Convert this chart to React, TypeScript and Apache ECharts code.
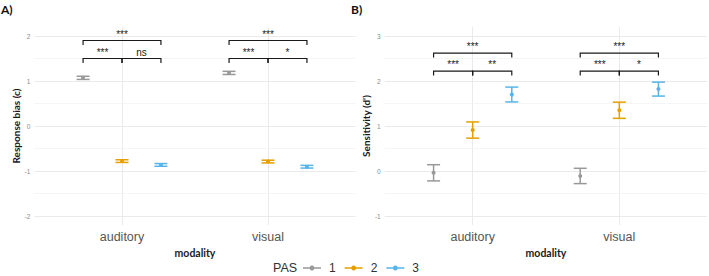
import React, { useEffect, useRef } from "react";
import * as echarts from "echarts";

const modalities = ["auditory", "visual"];
const pasLevels = ["1", "2", "3"];
const pasColors = ["#999999", "#E69F00", "#56B4E9"];

// Panel A: response bias (c)
const biasMean1 = [1.07, 1.18];
const biasErr1 = [0.035, 0.035];
const biasMean2 = [-0.78, -0.79];
const biasErr2 = [0.03, 0.03];
const biasMean3 = [-0.865, -0.905];
const biasErr3 = [0.03, 0.03];

// Panel B: sensitivity (d')
const dMean1 = [-0.04, -0.11];
const dErr1 = [0.18, 0.17];
const dMean2 = [0.91, 1.35];
const dErr2 = [0.18, 0.18];
const dMean3 = [1.7, 1.82];
const dErr3 = [0.165, 0.155];

// significance brackets: PAS pairs, heights, labels per modality
const bracketPairs = [[1, 2], [2, 3], [1, 3]];
const biasBracketY = [1.5, 1.5, 1.9];
const biasLabels = [["***", "ns", "***"], ["***", "*", "***"]];
const dBracketY = [2.22, 2.22, 2.62];
const dLabels = [["***", "**", "***"], ["***", "*", "***"]];

const biasTicks = [-2, -1, 0, 1, 2];
const biasGrid = [-2, -1.5, -1, -0.5, 0, 0.5, 1, 1.5, 2];
const dTicks = [-1, 0, 1, 2, 3];
const dGrid = [-1, -0.5, 0, 0.5, 1, 1.5, 2, 2.5, 3];

const DODGE = 0.8 / 3;
const FONT = "'Liberation Sans', Arial, sans-serif";
const BOLD = "Lato, 'Liberation Sans', sans-serif";

export default function App() {
  const ref = useRef<HTMLDivElement>(null);
  useEffect(() => {
    const chart = echarts.init(ref.current!, null, { renderer: "svg" });

    const errSeries = (means: number[], errs: number[], pi: number, axis: number) => ({
      type: "custom",
      name: pasLevels[pi],
      xAxisIndex: axis,
      yAxisIndex: axis,
      z: 5,
      itemStyle: { color: pasColors[pi] },
      data: modalities.map((_, i) => [i, means[i], errs[i]]),
      renderItem: (params: any, api: any) => {
        const x = api.value(0) + (pi - 1) * DODGE;
        const m = api.value(1);
        const e = api.value(2);
        const p = api.coord([x, m]);
        const t = api.coord([x, m + e]);
        const b = api.coord([x, m - e]);
        const hw = 6.5;
        const st = { stroke: pasColors[pi], lineWidth: 1.5 };
        return {
          type: "group",
          children: [
            { type: "line", shape: { x1: t[0], y1: t[1], x2: b[0], y2: b[1] }, style: st },
            { type: "line", shape: { x1: t[0] - hw, y1: t[1], x2: t[0] + hw, y2: t[1] }, style: st },
            { type: "line", shape: { x1: b[0] - hw, y1: b[1], x2: b[0] + hw, y2: b[1] }, style: st },
            { type: "circle", shape: { cx: p[0], cy: p[1], r: 2 }, style: { fill: pasColors[pi] } },
          ],
        };
      },
    });

    const bracketSeries = (ys: number[], labels: string[][], axis: number) => {
      const data: number[][] = [];
      modalities.forEach((_, i) => bracketPairs.forEach((_, j) => data.push([i, j])));
      return {
        type: "custom",
        name: "brackets",
        xAxisIndex: axis,
        yAxisIndex: axis,
        z: 6,
        itemStyle: { color: "#1a1a1a" },
        data,
        renderItem: (params: any, api: any) => {
          const i = api.value(0);
          const j = api.value(1);
          const [a, c] = bracketPairs[j];
          const y = ys[j];
          const x1 = i + (a - 2) * DODGE;
          const x2 = i + (c - 2) * DODGE;
          const p1 = api.coord([x1, y - 0.1]);
          const p2 = api.coord([x1, y]);
          const p3 = api.coord([x2, y]);
          const p4 = api.coord([x2, y - 0.1]);
          return {
            type: "group",
            children: [
              {
                type: "polyline",
                shape: { points: [p1, p2, p3, p4] },
                style: { stroke: "#1a1a1a", lineWidth: 1.2, fill: null },
              },
              {
                type: "text",
                x: (p2[0] + p3[0]) / 2,
                y: p2[1] - 1.5,
                style: {
                  text: labels[i][j],
                  fontSize: 10,
                  fontFamily: FONT,
                  fill: "#222222",
                  align: "center",
                  verticalAlign: "bottom",
                },
              },
            ],
          };
        },
      };
    };

    const gridSeries = (ticks: number[], majors: number[], axis: number) => ({
      type: "line",
      name: "grid",
      xAxisIndex: axis,
      yAxisIndex: axis,
      data: [],
      z: 1,
      silent: true,
      markLine: {
        silent: true,
        symbol: "none",
        label: { show: false },
        animation: false,
        data: [
          ...modalities.map((_, i) => ({ xAxis: i, lineStyle: { color: "#e8e8e8", width: 0.9, type: "solid" } })),
          ...ticks.map((v) => ({
            yAxis: v,
            lineStyle: {
              color: majors.includes(v) ? "#e8e8e8" : "#f1f1f1",
              width: majors.includes(v) ? 0.9 : 0.7,
              type: "solid",
            },
          })),
        ],
      },
    });

    const xAxisCfg = (gi: number) => ({
      type: "value",
      gridIndex: gi,
      min: -0.6,
      max: 1.6,
      axisLine: { show: false },
      axisTick: { show: false },
      splitLine: { show: false },
      axisLabel: {
        customValues: [0, 1],
        formatter: (v: number) => modalities[Math.round(v)] ?? "",
        fontSize: 12.5,
        color: "#555555",
        fontFamily: FONT,
        margin: 5,
      },
      name: "modality",
      nameLocation: "middle",
      nameGap: 17,
      nameTextStyle: { fontSize: 10.5, fontWeight: "bold", color: "#1a1a1a", fontFamily: BOLD },
    });

    const yAxisCfg = (gi: number, min: number, max: number, ticks: number[], name: string, gap: number) => ({
      type: "value",
      gridIndex: gi,
      min,
      max,
      axisLine: { show: false },
      axisTick: { show: false },
      splitLine: { show: false },
      axisLabel: {
        customValues: ticks,
        fontSize: 6.5,
        color: "#8c8c8c",
        fontFamily: FONT,
        margin: 4,
      },
      name,
      nameLocation: "middle",
      nameGap: gap,
      nameTextStyle: { fontSize: 10, fontWeight: "bold", color: "#1a1a1a", fontFamily: BOLD },
    });

    chart.setOption({
      animation: false,
      grid: [
        { left: 34.4, width: 321.2, top: 27, height: 198 },
        { left: 384.7, width: 322.6, top: 27, height: 198 },
      ],
      title: [
        { text: "A)", left: 1, top: 3, padding: 0, textStyle: { fontSize: 12, fontWeight: "bold", color: "#111", fontFamily: BOLD } },
        { text: "B)", left: 351, top: 3, padding: 0, textStyle: { fontSize: 12, fontWeight: "bold", color: "#111", fontFamily: BOLD } },
        { text: "PAS", left: 273, top: 261, padding: 0, textStyle: { fontSize: 12.5, fontWeight: "normal", color: "#333", fontFamily: FONT } },
      ],
      legend: {
        data: pasLevels,
        left: 303,
        top: 262,
        padding: 0,
        itemWidth: 18,
        itemHeight: 8,
        itemGap: 9,
        icon: "path://M0,3.3L18,3.3L18,4.7L0,4.7Z M9,1.6A2.4,2.4,0,1,1,8.99,1.6Z",
        textStyle: { fontSize: 12, color: "#333", fontFamily: FONT, padding: [0, 0, 0, 3] },
        selectedMode: false,
      },
      xAxis: [xAxisCfg(0), xAxisCfg(1)],
      yAxis: [
        yAxisCfg(0, -2.2, 2.2, biasTicks, "Response bias (c)", 13),
        yAxisCfg(1, -1.2, 3.2, dTicks, "Sensitivity (d')", 10),
      ],
      series: [
        gridSeries(biasGrid, biasTicks, 0),
        gridSeries(dGrid, dTicks, 1),
        errSeries(biasMean1, biasErr1, 0, 0),
        errSeries(biasMean2, biasErr2, 1, 0),
        errSeries(biasMean3, biasErr3, 2, 0),
        errSeries(dMean1, dErr1, 0, 1),
        errSeries(dMean2, dErr2, 1, 1),
        errSeries(dMean3, dErr3, 2, 1),
        bracketSeries(biasBracketY, biasLabels, 0),
        bracketSeries(dBracketY, dLabels, 1),
      ],
    });
    return () => chart.dispose();
  }, []);
  return (
    <div
      ref={ref}
      style={{ position: "fixed", left: 0, top: 0, width: 709, height: 276, background: "#fff" }}
    />
  );
}
